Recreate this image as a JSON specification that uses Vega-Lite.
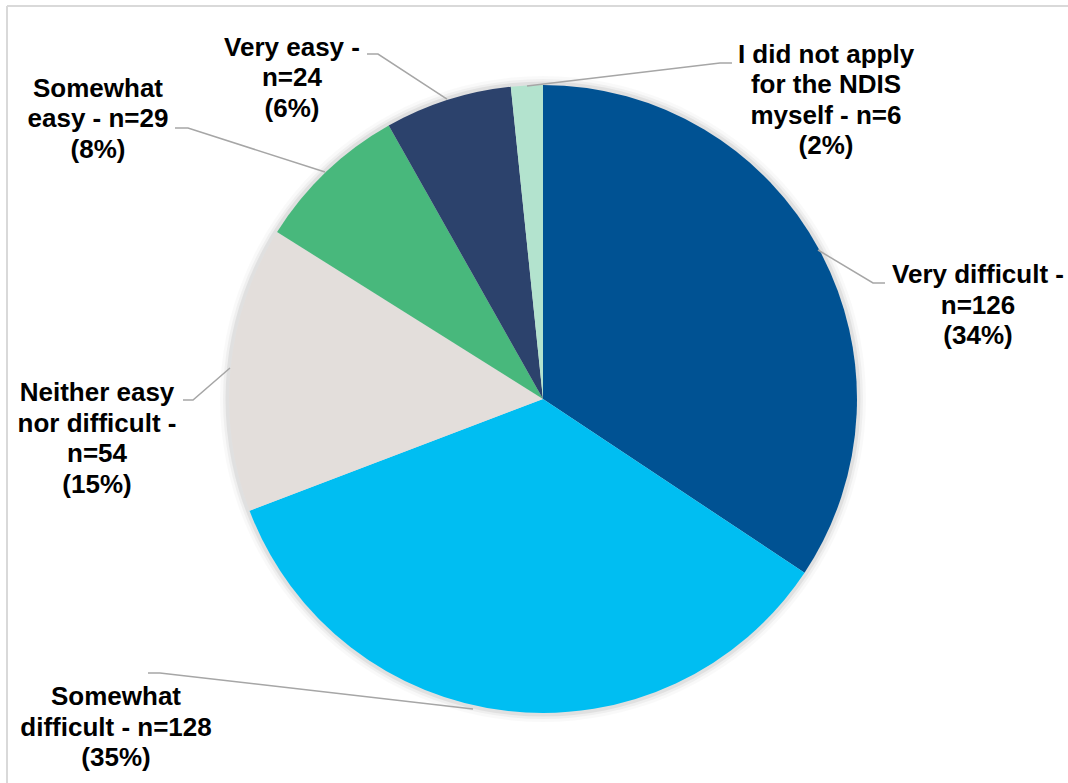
{
  "$schema": "https://vega.github.io/schema/vega-lite/v6.json",
  "width": 1068,
  "height": 783,
  "autosize": {"type": "none"},
  "padding": 0,
  "background": "white",
  "config": {"view": {"stroke": null}, "font": "Liberation Sans"},
  "datasets": {
    "slices": [
      {"category": "Very difficult", "n": 126, "order": 1},
      {"category": "Somewhat difficult", "n": 128, "order": 2},
      {"category": "Neither easy nor difficult", "n": 54, "order": 3},
      {"category": "Somewhat easy", "n": 29, "order": 4},
      {"category": "Very easy", "n": 24, "order": 5},
      {"category": "I did not apply for the NDIS myself", "n": 6, "order": 6}
    ],
    "labels": [
      {"text": "Very easy -\nn=24\n(6%)", "x": -79.94, "y": 109.24},
      {"text": "I did not apply\nfor the NDIS\nmyself - n=6\n(2%)", "x": 90.13, "y": 107.1},
      {"text": "Very difficult -\nn=126\n(34%)", "x": 138.54, "y": 36.85},
      {"text": "Somewhat\neasy - n=29\n(8%)", "x": -141.72, "y": 96.27},
      {"text": "Neither easy\nnor difficult -\nn=54\n(15%)", "x": -142.04, "y": -0.64},
      {"text": "Somewhat\ndifficult - n=128\n(35%)", "x": -135.99, "y": -97.45}
    ],
    "leaders": [
      {"leader": "Very easy", "i": 0, "x": -56.05, "y": 109.87},
      {"leader": "Very easy", "i": 1, "x": -52.55, "y": 109.87},
      {"leader": "Very easy", "i": 2, "x": -30.57, "y": 95.54},
      {"leader": "Somewhat easy", "i": 0, "x": -117.2, "y": 86.31},
      {"leader": "Somewhat easy", "i": 1, "x": -113.06, "y": 86.31},
      {"leader": "Somewhat easy", "i": 2, "x": -69.43, "y": 72.29},
      {"leader": "I did not apply", "i": 0, "x": -5.1, "y": 99.68},
      {"leader": "I did not apply", "i": 1, "x": 56.37, "y": 107.01},
      {"leader": "I did not apply", "i": 2, "x": 60.19, "y": 107.01},
      {"leader": "Very difficult", "i": 0, "x": 87.58, "y": 47.45},
      {"leader": "Very difficult", "i": 1, "x": 105.1, "y": 36.94},
      {"leader": "Very difficult", "i": 2, "x": 108.92, "y": 36.94},
      {"leader": "Neither", "i": 0, "x": -114.65, "y": -0.32},
      {"leader": "Neither", "i": 1, "x": -111.46, "y": -0.32},
      {"leader": "Neither", "i": 2, "x": -99.68, "y": 9.87},
      {"leader": "Somewhat difficult", "i": 0, "x": -125.8, "y": -87.26},
      {"leader": "Somewhat difficult", "i": 1, "x": -122.0, "y": -87.26},
      {"leader": "Somewhat difficult", "i": 2, "x": -22.29, "y": -98.73}
    ]
  },
  "layer": [
    {
      "data": {"values": [{}]},
      "mark": {"type": "rule", "stroke": "#D9D9D9", "strokeWidth": 2},
      "encoding": {
        "x": {"datum": -170.7, "type": "quantitative", "scale": {"domain": [-172.93, 167.2], "nice": false, "zero": false}, "axis": null},
        "x2": {"datum": 167.2},
        "y": {"datum": 125.16, "type": "quantitative", "scale": {"domain": [-122.29, 127.07], "nice": false, "zero": false}, "axis": null}
      }
    },
    {
      "data": {"values": [{}]},
      "mark": {"type": "rule", "stroke": "#D9D9D9", "strokeWidth": 2},
      "encoding": {
        "x": {"datum": -170.7, "type": "quantitative", "scale": {"domain": [-172.93, 167.2], "nice": false, "zero": false}, "axis": null},
        "y": {"datum": 125.16, "type": "quantitative", "scale": {"domain": [-122.29, 127.07], "nice": false, "zero": false}, "axis": null},
        "y2": {"datum": -122.29}
      }
    },
    {
      "data": {"values": [{}]},
      "mark": {"type": "arc", "theta": 0, "theta2": 6.2832, "outerRadius": 323, "fill": "#000000", "opacity": 0.025},
      "encoding": {
        "x": {"datum": 0, "type": "quantitative", "scale": {"domain": [-172.93, 167.2], "nice": false, "zero": false}, "axis": null},
        "y": {"datum": 0, "type": "quantitative", "scale": {"domain": [-122.29, 127.07], "nice": false, "zero": false}, "axis": null}
      }
    },
    {
      "data": {"values": [{}]},
      "mark": {"type": "arc", "theta": 0, "theta2": 6.2832, "outerRadius": 320, "fill": "#000000", "opacity": 0.04},
      "encoding": {
        "x": {"datum": 0, "type": "quantitative", "scale": {"domain": [-172.93, 167.2], "nice": false, "zero": false}, "axis": null},
        "y": {"datum": 0, "type": "quantitative", "scale": {"domain": [-122.29, 127.07], "nice": false, "zero": false}, "axis": null}
      }
    },
    {
      "data": {"values": [{}]},
      "mark": {"type": "arc", "theta": 0, "theta2": 6.2832, "outerRadius": 317.5, "fill": "#000000", "opacity": 0.06},
      "encoding": {
        "x": {"datum": 0, "type": "quantitative", "scale": {"domain": [-172.93, 167.2], "nice": false, "zero": false}, "axis": null},
        "y": {"datum": 0, "type": "quantitative", "scale": {"domain": [-122.29, 127.07], "nice": false, "zero": false}, "axis": null}
      }
    },
    {
      "data": {"name": "slices"},
      "mark": {"type": "arc", "outerRadius": 314, "strokeWidth": 0},
      "encoding": {
        "x": {"datum": 0, "type": "quantitative", "scale": {"domain": [-172.93, 167.2], "nice": false, "zero": false}, "axis": null},
        "y": {"datum": 0, "type": "quantitative", "scale": {"domain": [-122.29, 127.07], "nice": false, "zero": false}, "axis": null},
        "theta": {"field": "n", "type": "quantitative", "stack": true},
        "order": {"field": "order", "type": "quantitative", "sort": "ascending"},
        "color": {
          "field": "category",
          "type": "nominal",
          "legend": null,
          "scale": {
            "domain": ["Very difficult", "Somewhat difficult", "Neither easy nor difficult", "Somewhat easy", "Very easy", "I did not apply for the NDIS myself"],
            "range": ["#005293", "#00BEF2", "#E3DEDB", "#48B87C", "#2C426C", "#B3E3CE"]
          }
        }
      }
    },
    {
      "data": {"name": "leaders"},
      "mark": {"type": "line", "color": "#A6A6A6", "strokeWidth": 1.5},
      "encoding": {
        "x": {"field": "x", "type": "quantitative", "scale": {"domain": [-172.93, 167.2], "nice": false, "zero": false}, "axis": null},
        "y": {"field": "y", "type": "quantitative", "scale": {"domain": [-122.29, 127.07], "nice": false, "zero": false}, "axis": null},
        "detail": {"field": "leader", "type": "nominal"},
        "order": {"field": "i", "type": "quantitative"}
      }
    },
    {
      "data": {"name": "labels"},
      "mark": {"type": "text", "font": "Liberation Sans", "fontWeight": "bold", "fontSize": 26, "lineHeight": 30.5, "lineBreak": "\n", "align": "center", "baseline": "alphabetic", "color": "#000000"},
      "encoding": {
        "x": {"field": "x", "type": "quantitative", "scale": {"domain": [-172.93, 167.2], "nice": false, "zero": false}, "axis": null},
        "y": {"field": "y", "type": "quantitative", "scale": {"domain": [-122.29, 127.07], "nice": false, "zero": false}, "axis": null},
        "text": {"field": "text", "type": "nominal"}
      }
    }
  ]
}
